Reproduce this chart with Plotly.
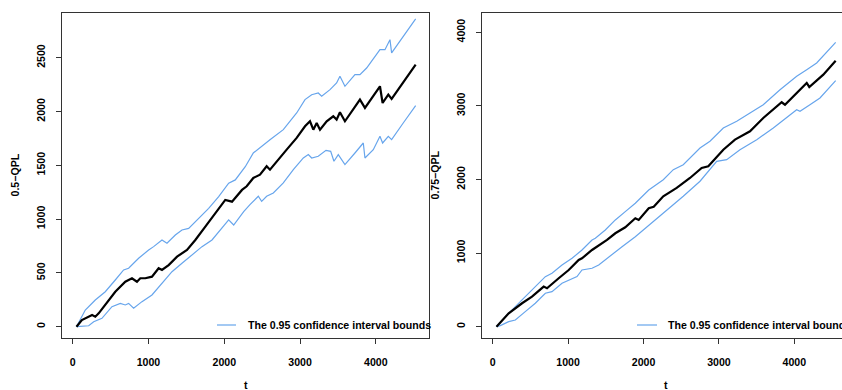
import plotly.graph_objects as go

# ---------------- data ----------------
# Left panel: 0.5-QPL
t_mid_a = [50,121,256,298,343,475,562,694,738,782,848,892,958,1046,1134,1178,1266,1377,1508,1618,
           1750,1882,2013,2102,2234,2296,2383,2471,2559,2603,2691,2823,2955,3065,3131,3175,3219,3263,
           3351,3438,3482,3526,3592,3702,3790,3856,3944,4054,4089,4164,4208,4361,4525]
qpl_mid_a = [0,62,108,93,124,248,325,418,434,450,418,450,450,465,543,527,573,651,713,806,
             930,1054,1178,1162,1271,1305,1382,1413,1491,1459,1537,1645,1754,1862,1909,1831,1893,1831,
             1909,1955,1924,1993,1909,2017,2110,2033,2126,2234,2079,2156,2116,2265,2435]

t_up_a = [50,166,298,430,562,672,738,870,1002,1068,1178,1244,1354,1442,1530,1662,1794,1926,2058,2145,
          2277,2383,2515,2603,2779,2955,3065,3153,3240,3285,3395,3482,3526,3592,3724,3790,3878,4054,
          4120,4186,4208,4361,4525]
qpl_up_a = [0,155,248,325,434,527,543,636,713,744,806,775,852,899,914,1007,1100,1208,1333,1364,
            1487,1614,1691,1738,1831,1986,2110,2156,2172,2141,2203,2265,2327,2234,2342,2342,2404,2574,
            2574,2667,2544,2699,2860]

t_lo_a = [50,211,277,343,386,518,628,694,738,804,914,1046,1178,1310,1442,1574,1706,1838,1926,2058,
          2124,2256,2339,2449,2493,2559,2647,2779,2911,3043,3109,3153,3240,3342,3404,3447,3504,3592,
          3724,3834,3856,3966,4054,4089,4164,4208,4361,4525]
qpl_lo_a = [0,9,46,62,78,186,217,202,217,171,233,295,403,511,589,666,744,806,883,992,
            945,1069,1134,1212,1165,1212,1243,1336,1459,1568,1599,1568,1584,1639,1630,1537,1599,1506,
            1614,1707,1568,1645,1769,1707,1769,1738,1893,2054]

# Right panel: 0.75-QPL
t_mid_b = [50,212,389,521,676,720,875,1008,1140,1184,1317,1383,1516,1626,1758,1891,1936,2069,2135,
           2262,2440,2616,2771,2859,3058,3213,3412,3588,3832,3876,4031,4164,4198,4384,4548]
qpl_mid_b = [0,182,318,408,544,522,658,770,906,929,1042,1087,1178,1269,1350,1473,1450,1609,1630,
             1772,1885,2020,2156,2179,2405,2541,2655,2836,3049,3016,3175,3311,3257,3424,3614]

t_up_b = [50,190,389,565,698,786,919,1052,1184,1317,1361,1493,1626,1758,1891,2069,2135,2262,2395,
          2527,2749,2881,3058,3236,3412,3588,3810,4031,4164,4296,4548]
qpl_up_b = [0,159,363,544,680,725,838,929,1042,1178,1201,1314,1450,1563,1677,1857,1902,1997,2133,
            2201,2428,2519,2700,2791,2904,3016,3220,3402,3492,3583,3864]

t_lo_b = [50,101,212,300,432,565,698,786,919,1008,1118,1184,1317,1406,1516,1715,1891,2023,2156,
          2307,2527,2749,2970,3103,3279,3501,3721,4031,4075,4207,4340,4548]
qpl_lo_b = [0,14,68,91,204,318,454,476,590,634,680,770,794,838,929,1087,1223,1337,1450,
            1590,1772,1976,2247,2269,2405,2541,2700,2948,2927,3016,3107,3342]

x_ticks = [0, 1000, 2000, 3000, 4000]
y_ticks_a = [0, 500, 1000, 1500, 2000, 2500]
y_ticks_b = [0, 1000, 2000, 3000, 4000]
legend_text = "The 0.95 confidence interval bounds"
x_title = "t"
y_title_a = "0.5\u2212QPL"
y_title_b = "0.75\u2212QPL"

# ---------------- figure ----------------
W, H = 842, 390
BLUE = "#67A5EC"
FONT = dict(family="Liberation Sans, Arial, sans-serif", size=10.6, color="black", weight="bold")
AX = "#333333"

def px(x):
    return x / W

def py(y):
    return 1 - y / H

fig = go.Figure()
blue_line = dict(color=BLUE, width=1.2)
black_line = dict(color="black", width=2.2)

fig.add_trace(go.Scatter(x=t_up_a, y=qpl_up_a, mode="lines", line=blue_line, xaxis="x", yaxis="y"))
fig.add_trace(go.Scatter(x=t_lo_a, y=qpl_lo_a, mode="lines", line=blue_line, xaxis="x", yaxis="y"))
fig.add_trace(go.Scatter(x=t_mid_a, y=qpl_mid_a, mode="lines", line=black_line, xaxis="x", yaxis="y"))
fig.add_trace(go.Scatter(x=t_up_b, y=qpl_up_b, mode="lines", line=blue_line, xaxis="x2", yaxis="y2"))
fig.add_trace(go.Scatter(x=t_lo_b, y=qpl_lo_b, mode="lines", line=blue_line, xaxis="x2", yaxis="y2"))
fig.add_trace(go.Scatter(x=t_mid_b, y=qpl_mid_b, mode="lines", line=black_line, xaxis="x2", yaxis="y2"))

common_x = dict(tickvals=x_ticks, ticks="outside", ticklen=5, tickcolor=AX, tickwidth=1,
                showgrid=False, zeroline=False, showline=True, linecolor=AX, linewidth=1,
                tickfont=FONT, ticklabelstandoff=9)
common_y = dict(ticks="outside", ticklen=5, tickcolor=AX, tickwidth=1, tickangle=-90,
                showgrid=False, zeroline=False, showline=True, linecolor=AX, linewidth=1,
                tickfont=FONT, ticklabelstandoff=7)

fig.update_layout(
    width=W, height=H,
    margin=dict(l=0, r=0, t=0, b=0),
    paper_bgcolor="white", plot_bgcolor="white",
    showlegend=False,
    font=FONT,
    xaxis=dict(domain=[px(62), px(429)], range=[-141, 4701], anchor="y", mirror=True, **common_x),
    yaxis=dict(domain=[py(338), py(13)], range=[-105, 2915], anchor="x", mirror=True,
               tickvals=y_ticks_a, **common_y),
    xaxis2=dict(domain=[px(482.3), 1.0], range=[-138, 4632], anchor="y2", mirror=True, **common_x),
    yaxis2=dict(domain=[py(338), py(13)], range=[-154, 4262], anchor="x2", mirror=False,
                tickvals=y_ticks_b, **common_y),
)

annotations = [
    dict(text=x_title, x=px(245.5), y=py(384.5), xref="paper", yref="paper",
         showarrow=False, xanchor="center", yanchor="middle", font=FONT),
    dict(text=x_title, x=px(665.5), y=py(384.5), xref="paper", yref="paper",
         showarrow=False, xanchor="center", yanchor="middle", font=FONT),
    dict(text=y_title_a, x=px(15), y=py(175.5), xref="paper", yref="paper", textangle=-90,
         showarrow=False, xanchor="center", yanchor="middle", font=FONT),
    dict(text=y_title_b, x=px(435), y=py(175.5), xref="paper", yref="paper", textangle=-90,
         showarrow=False, xanchor="center", yanchor="middle", font=FONT),
    dict(text=legend_text, x=px(246), y=py(325), xref="paper", yref="paper",
         showarrow=False, xanchor="left", yanchor="middle", font=FONT),
    dict(text=legend_text, x=px(666), y=py(325), xref="paper", yref="paper",
         showarrow=False, xanchor="left", yanchor="middle", font=FONT),
]
shapes = [
    dict(type="line", xref="paper", yref="paper", x0=px(217), x1=px(236), y0=py(325), y1=py(325),
         line=dict(color=BLUE, width=1.2)),
    dict(type="line", xref="paper", yref="paper", x0=px(637), x1=px(657), y0=py(325), y1=py(325),
         line=dict(color=BLUE, width=1.2)),
]
fig.update_layout(annotations=annotations, shapes=shapes)

fig.write_html("out.html", config={"displayModeBar": False},
               post_script="document.body.style.margin='0px';")
